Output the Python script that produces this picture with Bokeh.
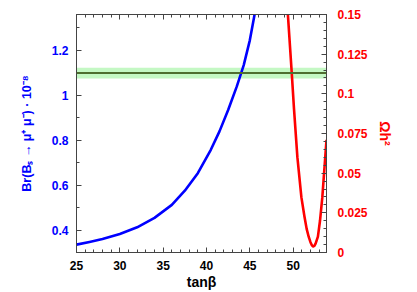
from bokeh.plotting import figure
from bokeh.models import LinearAxis, Range1d, FixedTicker, CustomJSTickFormatter, BoxAnnotation, Span
from bokeh.embed import file_html
from bokeh.resources import INLINE

# --- data ---
tanb_br = [25.0, 26.5, 28.0, 30.0, 32.0, 34.0, 36.0, 37.5, 39.0, 40.5, 41.5, 42.5, 43.5, 44.3, 45.0, 45.6]
br = [0.336, 0.348, 0.361, 0.383, 0.413, 0.455, 0.513, 0.576, 0.654, 0.758, 0.840, 0.935, 1.040, 1.135, 1.245, 1.370]

tanb_omega = [49.3, 49.4, 49.83, 50.1, 50.49, 50.95, 51.3, 51.56, 51.8, 52.0, 52.15, 52.29, 52.45, 52.6, 52.86, 53.1, 53.37, 53.85]
omega = [0.158, 0.1494, 0.114, 0.0905, 0.0601, 0.0349, 0.0228, 0.0149, 0.0098, 0.0065, 0.0047, 0.0038, 0.0042, 0.0058, 0.0100, 0.0200, 0.0349, 0.0710]

omega_band = [0.1097, 0.1165]
omega_central = 0.1131

x_ticks = [25, 30, 35, 40, 45, 50]
x_minor = list(range(25, 54))
br_ticks = [0.4, 0.6, 0.8, 1.0, 1.2]
br_minor = [round(0.3 + 0.1 * i, 1) for i in range(11)]
omega_ticks = [0, 0.025, 0.05, 0.075, 0.1, 0.125, 0.15]
omega_minor = [round(0.005 * i, 3) for i in range(31)]

FONT = "Liberation Sans"
BLUE = "#0000ff"
RED = "#ff0000"

p = figure(width=417, height=292, output_backend="svg", toolbar_location=None,
           x_range=Range1d(25, 53.85), y_range=Range1d(0.301, 1.36),
           min_border_left=76, min_border_right=91, min_border_top=14, min_border_bottom=40,
           x_axis_label="tanβ", y_axis_label="Br(Bₛ → μ⁺ μ⁻) · 10⁻⁸")
p.extra_y_ranges = {"omega": Range1d(0, 0.15)}
p.xgrid.visible = False
p.ygrid.visible = False
p.outline_line_color = "#333333"
p.background_fill_color = "white"
p.border_fill_color = "white"

fmt = CustomJSTickFormatter(code="return String(tick);")

def style(ax, color, label_color=None):
    ax.major_tick_in = 5
    ax.major_tick_out = 0
    ax.minor_tick_in = 3
    ax.minor_tick_out = 0
    ax.axis_line_color = "#444444"
    ax.major_tick_line_color = "#444444"
    ax.minor_tick_line_color = "#444444"
    ax.major_label_text_font = FONT
    ax.major_label_text_font_style = "bold"
    ax.major_label_text_font_size = "12px"
    ax.major_label_text_color = color
    ax.axis_label_text_font = FONT
    ax.axis_label_text_font_style = "bold"
    ax.axis_label_text_font_size = "14px"
    ax.axis_label_text_color = label_color or color
    ax.formatter = fmt

# bottom axis
xa = p.xaxis[0]
xa.ticker = FixedTicker(ticks=x_ticks, minor_ticks=x_minor)
style(xa, "black")
xa.major_label_standoff = 8
xa.axis_label_standoff = 1

# left axis
ya = p.yaxis[0]
ya.ticker = FixedTicker(ticks=br_ticks, minor_ticks=br_minor)
style(ya, BLUE)
ya.axis_label_text_font_size = "12.5px"
ya.major_label_standoff = 8
ya.axis_label_standoff = 15

# right axis
ra = LinearAxis(y_range_name="omega", axis_label="Ωh²",
                ticker=FixedTicker(ticks=omega_ticks, minor_ticks=omega_minor))
style(ra, RED)
ra.major_label_standoff = 11
ra.axis_label_standoff = 6
p.add_layout(ra, "right")

# top axis (ticks only, no labels)
ta = LinearAxis(ticker=FixedTicker(ticks=x_ticks, minor_ticks=x_minor))
style(ta, "black")
ta.formatter = CustomJSTickFormatter(code="return '';")
ta.major_label_standoff = 0
p.add_layout(ta, "above")

# green band + central value (relic density)
p.add_layout(BoxAnnotation(bottom=omega_band[0], top=omega_band[1], y_range_name="omega",
                           fill_color="#c4f8c4", fill_alpha=1.0, line_alpha=0, level="underlay"))
p.add_layout(Span(location=omega_central, dimension="width", y_range_name="omega",
                  line_color="#4e6e30", line_width=2))

# curves
p.line(tanb_br, br, line_color=BLUE, line_width=2.6, line_join="round")
p.line(tanb_omega, omega, line_color=RED, line_width=2.6, line_join="round", y_range_name="omega")

open("out.html", "w").write(file_html(p, INLINE))
